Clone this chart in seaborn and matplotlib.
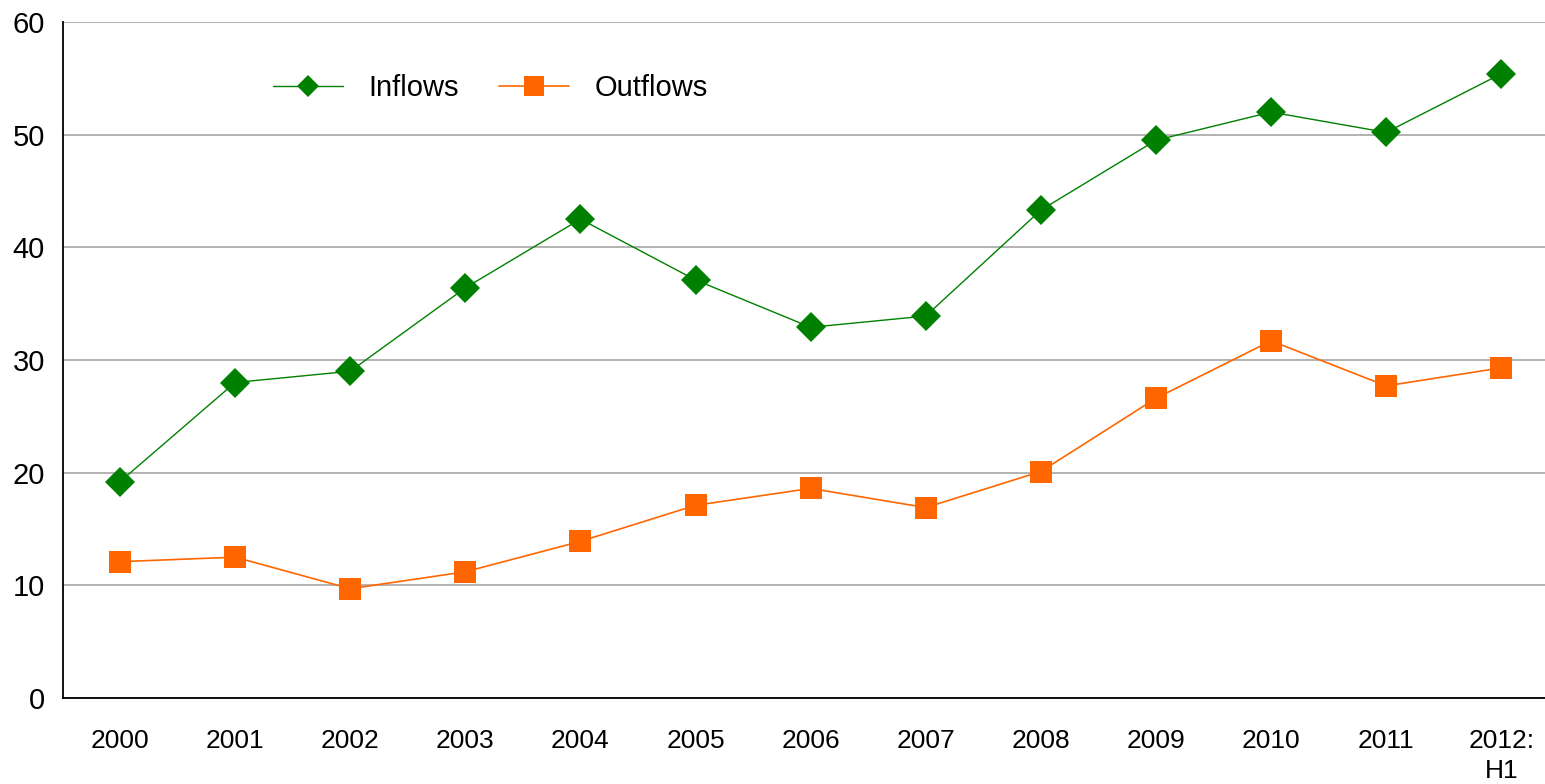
import matplotlib
matplotlib.use("Agg")
import matplotlib.pyplot as plt
import seaborn as sns
import pandas as pd

# Annual flows, 2000 to first half of 2012
years = ["2000", "2001", "2002", "2003", "2004", "2005", "2006",
         "2007", "2008", "2009", "2010", "2011", "2012:\nH1"]
inflows = [19.2, 28.0, 29.0, 36.4, 42.5, 37.1, 32.9, 33.9, 43.3, 49.5, 52.0, 50.2, 55.4]
outflows = [12.1, 12.5, 9.7, 11.2, 13.9, 17.1, 18.6, 16.9, 20.1, 26.6, 31.7, 27.7, 29.3]
y_ticks = [0, 10, 20, 30, 40, 50, 60]

sns.set_theme(style="white")
plt.rcParams["font.family"] = ["Liberation Sans", "DejaVu Sans"]

df = pd.DataFrame({"year": years, "Inflows": inflows, "Outflows": outflows})
df["pos"] = range(len(years))

fig = plt.figure(figsize=(15.45, 7.84), dpi=100)
ax = fig.add_axes([0.0408, 0.1097, 0.9592, 0.8623])

sns.lineplot(data=df, x="pos", y="Inflows", ax=ax, color="#008000", linewidth=1.0,
             marker="D", markersize=15.5, markeredgewidth=0, label="Inflows")
sns.lineplot(data=df, x="pos", y="Outflows", ax=ax, color="#FF6600", linewidth=1.2,
             marker="s", markersize=16.5, markeredgewidth=0, label="Outflows")

ax.set_xlim(-0.495, 12.38)
ax.set_ylim(0, 60)
ax.set_yticks(y_ticks)
ax.set_xticks(df["pos"])
ax.set_xticklabels(years, linespacing=1.35)
ax.set_xlabel("")
ax.set_ylabel("")

ax.yaxis.grid(True, color="#A6A6A6", linewidth=1.2)
ax.xaxis.grid(False)
ax.set_axisbelow(True)

for side in ["top", "right"]:
    ax.spines[side].set_visible(False)
for side in ["left", "bottom"]:
    ax.spines[side].set_color("black")
    ax.spines[side].set_linewidth(1.3)

ax.tick_params(axis="y", length=0, pad=13, labelsize=21, colors="black")
ax.tick_params(axis="x", length=0, pad=22, labelsize=19, colors="black")

leg = ax.legend(loc="center left", bbox_to_anchor=(0.1417, 0.902), ncol=2,
                frameon=False, fontsize=21, handlelength=2.4, handletextpad=0.86,
                columnspacing=1.4, borderaxespad=0, borderpad=0)
leg.legend_handles[0].set_markersize(11.5)
leg.legend_handles[1].set_markersize(15)
for t in leg.get_texts():
    t.set_color("black")

fig.savefig("out.png", dpi=100)
